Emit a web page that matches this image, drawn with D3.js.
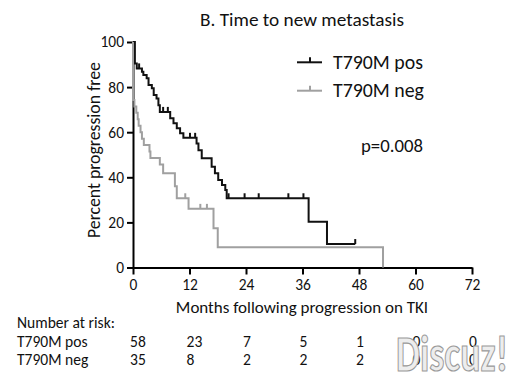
<!DOCTYPE html>
<html lang="en">
<head>
    <meta charset="UTF-8">
    <title>Time to new metastasis</title>
    <script src="https://cdn.jsdelivr.net/npm/d3@7/dist/d3.min.js"></script>
    <style>
        body { margin: 0; background: #fff; }
        text { font-family: Carlito, Lato, "Open Sans", sans-serif; fill: #111; }
    </style>
</head>
<body>
<svg id="main" width="520" height="378"></svg>
<script>
    // Kaplan-Meier steps: [month, percent free]
    const posSteps = [[0,100],[0.4,90.5],[0.8,88.3],[1.9,86.8],[2.2,85.4],[2.9,83.9],[3.3,80.9],
        [4.0,79.5],[4.4,76.5],[5.0,75],[5.4,72],[5.7,69],[7.9,66.2],[8.6,64],[9.3,61.7],[10.0,59.5],
        [10.7,57.5],[13.5,55],[13.9,52],[14.6,48.4],[16.7,44.7],[17.4,41.8],[18.1,38.8],[18.9,36.6],
        [19.6,34.4],[19.9,30.7],[37.3,20.3],[41.2,10.4],[47.2,10.4]];
    const posCensor = [1.3, 6.4, 7.4, 12.1, 13.2, 20.3, 23.7, 26.7, 33.0, 36.2, 47.2];
    const negSteps = [[0,100],[0,74.3],[0.3,71.4],[0.7,68.6],[1.0,65.7],[1.2,62.9],[1.6,60],[1.9,57.1],
        [2.3,54.3],[3.5,51.4],[3.7,48.6],[5.7,45.7],[6.4,41.8],[8.9,36],[9.3,30.7],[11.8,26],
        [17.1,17.4],[18.0,9],[53.1,9],[53.1,0]];
    const negCensor = [11.1, 14.3, 15.7];

    const xTicks = [0, 12, 24, 36, 48, 60, 72];
    const yTicks = [0, 20, 40, 60, 80, 100];
    const riskPos = [58, 23, 7, 5, 1, 0, 0];
    const riskNeg = [35, 8, 2, 2, 2, 0, 0];
    const seriesNames = ['T790M pos', 'T790M neg'];
    const seriesColors = ['#111111', '#a0a0a0'];

    let svg = d3.select('svg#main');
    svg.append('rect').attr('width', 520).attr('height', 378).attr('fill', '#fff');

    // font size that makes a string a given width
    function sizeFor(str, width, weight){
        let t = svg.append('text').attr('font-size', 100).attr('font-weight', weight || 'normal').text(str);
        let w = t.node().getComputedTextLength();
        t.remove();
        return 100 * width / w;
    }

    let xScale = d3.scaleLinear().domain([0, 72]).range([133, 472]);
    let yScale = d3.scaleLinear().domain([0, 100]).range([267.5, 42]);

    let tickFont = sizeFor('100', 23.5);

    // axes
    let xAxis = svg.append('g').attr('transform', 'translate(0,' + yScale(0) + ')')
        .call(d3.axisBottom(xScale).tickValues(xTicks).tickSize(7).tickSizeOuter(0).tickPadding(5));
    let yAxis = svg.append('g').attr('transform', 'translate(' + xScale(0) + ',0)')
        .call(d3.axisLeft(yScale).tickValues(yTicks).tickSize(6).tickSizeOuter(0).tickPadding(3));
    [xAxis, yAxis].forEach(function(a){
        a.selectAll('path, line').attr('stroke', '#000').attr('stroke-width', 2);
        a.selectAll('text').attr('font-size', tickFont).attr('fill', '#111').style('font-family', null);
    });

    // curves
    let line = d3.line().x(function(d){return xScale(d[0]);}).y(function(d){return yScale(d[1]);})
        .curve(d3.curveStepAfter);

    function valueAt(steps, t){
        let v = steps[0][1];
        steps.forEach(function(s){ if(s[0] <= t) v = s[1]; });
        return v;
    }

    [[posSteps, posCensor], [negSteps, negCensor]].forEach(function(s, i){
        svg.append('path').attr('d', line(s[0])).attr('fill', 'none')
            .attr('stroke', seriesColors[i]).attr('stroke-width', 2);
        svg.selectAll(null).data(s[1]).enter().append('line')
            .attr('x1', function(d){return xScale(d);}).attr('x2', function(d){return xScale(d);})
            .attr('y1', function(d){return yScale(valueAt(s[0], d));})
            .attr('y2', function(d){return yScale(valueAt(s[0], d)) - 5;})
            .attr('stroke', seriesColors[i]).attr('stroke-width', 2);
    });

    // legend
    let legFont = sizeFor('T790M pos', 90);
    seriesNames.forEach(function(name, i){
        let y = 62.3 + i * 28.4;
        svg.append('line').attr('x1', 297).attr('x2', 322).attr('y1', y).attr('y2', y)
            .attr('stroke', seriesColors[i]).attr('stroke-width', 2);
        svg.append('line').attr('x1', 310).attr('x2', 310).attr('y1', y).attr('y2', y - 5)
            .attr('stroke', seriesColors[i]).attr('stroke-width', 2);
        svg.append('text').attr('x', 333).attr('y', y + 6.2).attr('font-size', legFont).text(name);
    });

    // title, p value, axis titles
    svg.append('text').attr('x', 200).attr('y', 26)
        .attr('font-size', sizeFor('B. Time to new metastasis', 204)).text('B. Time to new metastasis');
    svg.append('text').attr('x', 361).attr('y', 151.5)
        .attr('font-size', sizeFor('p=0.008', 62)).text('p=0.008');
    svg.append('text').attr('text-anchor', 'middle')
        .attr('transform', 'translate(100,150) rotate(-90)')
        .attr('font-size', sizeFor('Percent progression free', 176)).text('Percent progression free');
    svg.append('text').attr('x', 302).attr('y', 312.5).attr('text-anchor', 'middle')
        .attr('font-size', sizeFor('Months following progression on TKI', 252.5))
        .text('Months following progression on TKI');

    // number at risk table
    let tabFont = sizeFor('T790M pos', 70.6);
    svg.append('text').attr('x', 17).attr('y', 328).attr('font-size', tabFont).text('Number at risk:');
    [riskPos, riskNeg].forEach(function(row, i){
        let y = 346.5 + i * 18.5;
        svg.append('text').attr('x', 17).attr('y', y).attr('font-size', tabFont).text(seriesNames[i]);
        svg.selectAll(null).data(row).enter().append('text')
            .attr('x', function(d, j){return xScale(xTicks[j]) - 3;})
            .attr('y', y).attr('font-size', tabFont).text(function(d){return d;});
    });

    // watermark from the source image, stretched tall like the original
    svg.append('text').attr('transform', 'translate(396,371) scale(1,1.35)').attr('font-weight', 'bold')
        .attr('font-size', sizeFor('Discuz!', 112, 'bold'))
        .style('fill', '#ededed').attr('stroke', '#9a9a9a').attr('stroke-width', 0.9)
        .text('Discuz!');
</script>
</body>
</html>
